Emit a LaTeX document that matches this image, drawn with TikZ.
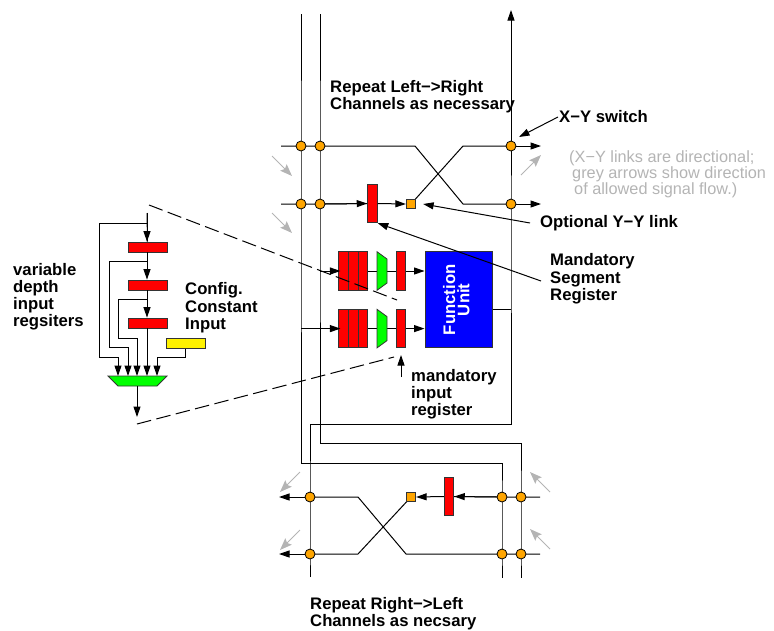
\documentclass[tikz,border=0pt]{standalone}
\usepackage{fontspec}
\setmainfont{Liberation Sans}
\usetikzlibrary{arrows.meta,calc}
\pgfdeclarelayer{wires}
\pgfsetlayers{wires,main}
\definecolor{dotc}{HTML}{FFA500}
\definecolor{gr}{HTML}{B4B4B4}
\tikzset{
  wire/.style={draw=black,line width=1pt},
  arr/.style={wire,-{Triangle[length=10.5pt,width=7pt]}},
  greyarr/.style={draw=gr,line width=1pt,-{Stealth[length=12pt,width=9pt,inset=2pt]}},
  dashline/.style={draw=black,line width=1pt,dash pattern=on 14.5pt off 5.5pt},
  junction/.style={circle,draw=black,fill=dotc,line width=0.8pt,minimum size=10pt,inner sep=0pt},
  sq/.style={rectangle,draw=black!80,fill=dotc,line width=0.8pt,minimum size=9.5pt,inner sep=0pt},
  regbox/.style={rectangle,draw=black!80,fill=red,line width=0.8pt,inner sep=0pt},
  vbar/.style={regbox,minimum width=9.7pt,minimum height=38.5pt},
  hbar/.style={regbox,minimum width=39pt,minimum height=10pt},
  lab/.style={inner sep=0pt,font=\fontsize{16.7}{17.2}\selectfont\bfseries,align=left,anchor=north west},
  greylab/.style={inner sep=0pt,font=\fontsize{16.3}{16}\selectfont,text=gr,align=left,anchor=north west},
  muxshape/.style={draw=black!80,fill=green,line width=0.8pt}
}
\begin{document}
\begin{tikzpicture}[x=1pt,y=-1pt]
\useasboundingbox (0,0) rectangle (774,630);
% ---- crossbar junctions
\foreach \n/\px/\py in {a/301/146,b/320/146,c/511/146,d/301/204,e/320/204,f/511/204,
  g/310/497,h/310/554,i/502/497,j/521/497,k/502/554,l/521/554}
  {\node[junction] (\n) at (\px,\py) {};}
\node[sq] (sqT) at (411,204) {};
\node[sq] (sqB) at (411,497) {};
\node[vbar] (segT) at (372.5,203.5) {};
\node[vbar] (segB) at (449,496.5) {};
% ---- input registers
\node[vbar] (A1) at (343.7,271) {};
\node[vbar] (B1) at (353.3,271) {};
\node[vbar] (C1) at (363,271) {};
\node[vbar] (R1) at (401,271) {};
\node[vbar] (A2) at (343.7,328.6) {};
\node[vbar] (B2) at (353.3,328.6) {};
\node[vbar] (C2) at (363,328.6) {};
\node[vbar] (R2) at (401,328.6) {};
\coordinate (Mw1) at (377,271); \coordinate (Me1) at (387,271);
\coordinate (Mw2) at (377,328.6); \coordinate (Me2) at (387,328.6);
\path[muxshape] (377,251.7) -- (387,259) -- (387,283) -- (377,290.3) -- cycle;
\path[muxshape] (377,309.3) -- (387,316.6) -- (387,340.6) -- (377,347.9) -- cycle;
\node[rectangle,draw=black!80,fill=blue,line width=0.8pt,inner sep=0pt,minimum width=67.5pt,minimum height=96pt,
  text=white,font=\fontsize{16.7}{17}\selectfont\bfseries] (FU) at (458.7,299.8)
  {\rotatebox{90}{\begin{tabular}{@{}c@{}}Function\\[-3pt]Unit\end{tabular}}};
% ---- left detail
\node[hbar] (L1) at (147.5,247) {};
\node[hbar] (L2) at (147.5,285) {};
\node[hbar] (L3) at (147.5,323) {};
\node[rectangle,draw=black!80,fill=yellow,line width=0.8pt,inner sep=0pt,minimum width=39pt,minimum height=10pt] (Y) at (185.5,343) {};
\coordinate (Mx1) at (118,376); \coordinate (Mx2) at (128,376); \coordinate (Mx3) at (137,376);
\coordinate (Mx4) at (147,376); \coordinate (Mx5) at (157,376); \coordinate (MxOut) at (137,386);
\path[muxshape] (108,376) -- (167,376) -- (157,386) -- (118,386) -- cycle;
% ---- free ends
\coordinate (topA) at (301,14);  \coordinate (topB) at (320,14);
\coordinate (topC) at (511,10);  \coordinate (cnrC) at (511,424);
\coordinate (cnrG) at (310,424); \coordinate (botG) at (310,577);
\coordinate (cnrE) at (320,443); \coordinate (cnrJ) at (521,443); \coordinate (botJ) at (521,578);
\coordinate (cnrA) at (301,463); \coordinate (cnrI) at (502,463); \coordinate (botI) at (502,578);
\coordinate (fuOut) at (511,309);
\coordinate (tl) at (281,146); \coordinate (bl) at (281,204);
\coordinate (rt) at (540,497); \coordinate (rb) at (540,554);
\coordinate (lt) at (147,213);
\begin{pgfonlayer}{wires}
  \draw[wire] (topA) -- (a.center) -- (d.center) -- (cnrA) -- (cnrI) -- (i.center) -- (k.center) -- (botI);
  \draw[wire] (topB) -- (b.center) -- (e.center) -- (cnrE) -- (cnrJ) -- (j.center) -- (l.center) -- (botJ);
  \draw[wire] (botG) -- (h.center) -- (g.center) -- (cnrG) -- (cnrC) -- (f.center) -- (c.center);
  \draw[arr] (c.center) -- (topC);
  \draw[wire] (tl) -- (a.center) -- (b.center) -- (415,146) -- (463,204) -- (f.center);
  \draw[arr] (f.center) -- (541,204);
  \draw[wire] (sqT.center) -- (463,146) -- (c.center);
  \draw[arr] (c.center) -- (541,146);
  \draw[wire] (bl) -- (d.center) -- (e.center) -- (segT.center);
  % lower crossbar
  \draw[wire] (rt) -- (j.center) -- (i.center) -- (segB.center);
  \draw[wire] (sqB.center) -- (358,554) -- (h.center);
  \draw[arr] (h.center) -- (279,554);
  \draw[wire] (rb) -- (l.center) -- (k.center) -- (406,554) -- (358,497) -- (g.center);
  \draw[arr] (g.center) -- (279,497);
  % register row wires
  \draw[wire] (C1.east) -- (Mw1);
  \draw[wire] (Me1) -- (R1.west);
  \draw[wire] (C2.east) -- (Mw2);
  \draw[wire] (Me2) -- (R2.west);
  % left detail
  \draw[wire] (lt) -- (L1.north);
  \draw[wire] (147,223) -- (99,223) -- (99,357) -- (118,357);
  \draw[wire] (147,261) -- (109,261) -- (109,347) -- (128,347);
  \draw[wire] (147,299) -- (118,299) -- (118,338) -- (137,338);
  \draw[wire] (Y.south) -- (185.5,357) -- (157,357);
\end{pgfonlayer}
% ---- arrows onto boxes
\draw[arr] ($(e.center)+(5,0)$) -- (segT.west);
\draw[arr] (segT.east) -- (sqT.west);
\draw[arr] (i.west) -- (segB.east);
\draw[arr] (segB.west) -- (sqB.east);
\draw[arr] (320,271) -- ($(A1.west)+(2,0)$);
\draw[arr] (301,328.6) -- ($(A2.west)+(2,0)$);
\draw[arr] (R1.east) -- (FU.west |- R1.east);
\draw[arr] (R2.east) -- (FU.west |- R2.east);
\draw[wire] (FU.east |- fuOut) -- (fuOut);
% left detail arrows
\draw[arr] (lt) -- (L1.north -| lt);
\draw[arr] (L1.south -| lt) -- (L2.north -| lt);
\draw[arr] (L2.south -| lt) -- (L3.north -| lt);
\draw[arr] (L3.south -| lt) -- (Mx4);
\draw[arr] (118,357) -- (Mx1);
\draw[arr] (128,347) -- (Mx2);
\draw[arr] (137,338) -- (Mx3);
\draw[arr] (157,357) -- (Mx5);
\coordinate (MxEnd) at (137,417);
\draw[arr] (MxOut) -- (MxEnd);
% ---- grey direction arrows
\draw[greyarr] (272,156) -- (292,176);
\draw[greyarr] (272,213) -- (292,233);
\draw[greyarr] (521,175) -- (541,155);
\draw[greyarr] (300,472) -- (280,492);
\draw[greyarr] (300,530) -- (280,550);
\draw[greyarr] (550,492) -- (530,472);
\draw[greyarr] (550,549) -- (530,529);
% ---- dashed zoom lines
\draw[dashline] (149,205) -- (397,300);
\draw[dashline] (137,424) -- (394,357);
% ---- callouts
\coordinate (cSw) at (558,117);
\coordinate (cOpt) at (530,223);
\coordinate (cSeg) at (541,281);
\coordinate (cIn) at (401,377);
\draw[arr] (cSw) -- (519,137);
\draw[arr] (cOpt) -- ($(sqT.east)+(7,0)$);
\draw[arr] (cSeg) -- (segT.south east);
\draw[arr] (cIn) -- (401,355);
% ---- labels
\node[lab] (t1) at (330,80) {Repeat Left−>Right\\Channels as necessary};
\node[lab] (t2) at (559,110) {X−Y switch};
\node[greylab] (t3) at (569,150) {(X−Y links are directional;\\\hspace*{3pt}grey arrows show direction\\\hspace*{5pt}of allowed signal flow.)};
\node[lab] (t4) at (540,215.5) {Optional Y−Y link};
\node[lab] (t5) at (550,253.5) {Mandatory\\Segment\\Register};
\node[lab] (t6) at (185,282.5) {Config.\\Constant\\Input};
\node[lab] (t7) at (13,263) {variable\\depth\\input\\regsiters};
\node[lab] (t8) at (411,369) {mandatory\\input\\register};
\node[lab] (t9) at (310,597) {Repeat Right−>Left\\Channels as necsary};
\end{tikzpicture}
\end{document}
